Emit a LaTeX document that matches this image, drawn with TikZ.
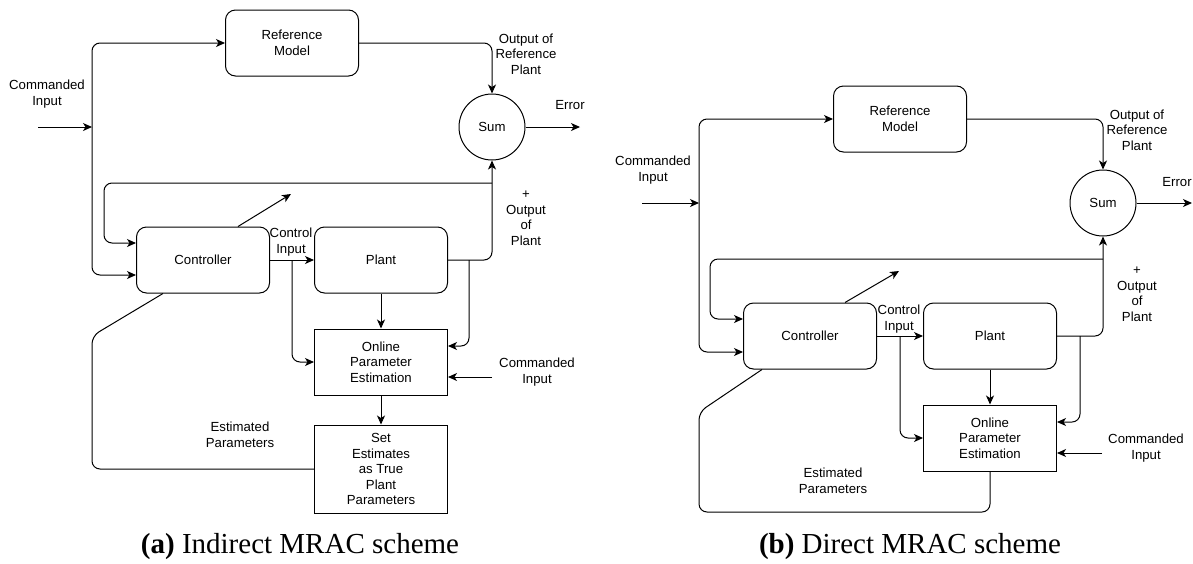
\documentclass[tikz,border=0pt]{standalone}
\usepackage{fontspec}
\setmainfont{Liberation Serif}
\newfontfamily\diafont{Liberation Sans}
\usetikzlibrary{arrows.meta}

\tikzset{
  blk/.style={draw, rounded corners=10pt, minimum width=133pt, minimum height=66pt, align=center},
  sqblk/.style={draw, minimum width=133pt, minimum height=66pt, align=center},
  sumblk/.style={draw, circle, minimum size=66pt, inner sep=0pt},
  lbl/.style={align=center},
  wire/.style={-{Stealth[length=9pt,width=8pt,inset=2.5pt]}, rounded corners=8pt},
  capt/.style={font=\rmfamily\fontsize{29}{34}\selectfont},
}

\begin{document}
\begin{tikzpicture}[x=1pt, y=-1pt, line width=1pt, font=\diafont\fontsize{13.2}{15.5}\selectfont]
\useasboundingbox (0,0) rectangle (1193,563);

% (a) indirect scheme
\begin{scope}[name prefix=a-]
\node[blk] (ref) at (292,43) {Reference\\Model};
\node[sumblk] (sum) at (492,127) {Sum};
\node[blk] (ctrl) at (203,260) {Controller};
\node[blk] (plant) at (381,260) {Plant};
\node[sqblk] (ope) at (381,362) {Online\\Parameter\\Estimation};
\node[sqblk, minimum height=88pt] (setest) at (381,469) {Set\\Estimates\\as True\\Plant\\Parameters};

\node[lbl] (cmdtxt) at (47,94) {Commanded\\Input};
\node[lbl] (reftxt) at (526,54) {Output of\\Reference\\Plant};
\node[lbl] (errtxt) at (570,105) {Error};
\node[lbl] (pouttxt) at (526,218) {+\\Output\\of\\Plant};
\node[lbl] (cintxt) at (291,242) {Control\\Input};
\node[lbl] (cmd2txt) at (537,372) {Commanded\\Input};
\node[lbl] (esttxt) at (240,435) {Estimated\\Parameters};

\coordinate (cmd) at (38,127);
\coordinate (split) at (92,127);
\coordinate (err) at (580,127);
\coordinate (fb) at (492,183);
\coordinate (fbl) at (104,183);
\coordinate (adj) at (291,194);
\coordinate (cbr) at (292,260);
\coordinate (pbr) at (469,260);
\coordinate (cmd2) at (492,377);
\coordinate (estl) at (92,336);

\draw[wire] (cmd) -- (split);
\draw[wire] (split) |- (ref.west);
\draw[wire] (split) |- ([yshift=-15pt]ctrl.west);
\draw[wire] (ref.east) -| (sum.north);
\draw[wire] (sum.east) -- (err);
\draw[wire] (plant.east) -| (sum.south);
\draw[wire] (fb) -- (fbl) |- ([yshift=17pt]ctrl.west);
\draw[wire] ([xshift=35pt]ctrl.north) -- (adj);
\draw[wire] (ctrl.east) -- (plant.west);
\draw[wire] (cbr) |- (ope.west);
\draw[wire] (pbr) |- ([yshift=16pt]ope.east);
\draw[wire] (plant.south) -- (ope.north);
\draw[wire] (cmd2) -- ([yshift=-15pt]ope.east);
\draw[wire] (ope.south) -- (setest.north);
\draw[rounded corners=8pt] (setest.west) -| (estl) -- ([xshift=-40pt]ctrl.south);
\end{scope}

% (b) direct scheme
\begin{scope}[shift={(607,76)}, name prefix=b-]
\node[blk] (ref) at (293,43) {Reference\\Model};
\node[sumblk] (sum) at (496,127) {Sum};
\node[blk] (ctrl) at (203,260) {Controller};
\node[blk] (plant) at (383,260) {Plant};
\node[sqblk] (ope) at (383,362) {Online\\Parameter\\Estimation};

\node[lbl] (cmdtxt) at (46,94) {Commanded\\Input};
\node[lbl] (reftxt) at (530,54) {Output of\\Reference\\Plant};
\node[lbl] (errtxt) at (570,106) {Error};
\node[lbl] (pouttxt) at (530,218) {+\\Output\\of\\Plant};
\node[lbl] (cintxt) at (292,243) {Control\\Input};
\node[lbl] (cmd2txt) at (539,372) {Commanded\\Input};
\node[lbl] (esttxt) at (226,405) {Estimated\\Parameters};

\coordinate (cmd) at (35,127);
\coordinate (split) at (92,127);
\coordinate (err) at (585,127);
\coordinate (fb) at (496,183);
\coordinate (fbl) at (103,183);
\coordinate (adj) at (292,195);
\coordinate (cbr) at (293,260);
\coordinate (pbr) at (473,260);
\coordinate (cmd2) at (495,377);
\coordinate (estb) at (383,436);
\coordinate (estl) at (92,336);

\draw[wire] (cmd) -- (split);
\draw[wire] (split) |- (ref.west);
\draw[wire] (split) |- ([yshift=-16pt]ctrl.west);
\draw[wire] (ref.east) -| (sum.north);
\draw[wire] (sum.east) -- (err);
\draw[wire] (plant.east) -| (sum.south);
\draw[wire] (fb) -- (fbl) |- ([yshift=17pt]ctrl.west);
\draw[wire] ([xshift=35pt]ctrl.north) -- (adj);
\draw[wire] (ctrl.east) -- (plant.west);
\draw[wire] (cbr) |- (ope.west);
\draw[wire] (pbr) |- ([yshift=16pt]ope.east);
\draw[wire] (plant.south) -- (ope.north);
\draw[wire] (cmd2) -- ([yshift=-15pt]ope.east);
\draw[rounded corners=8pt] (ope.south) -- (estb) -| (estl) -- ([xshift=-48pt]ctrl.south);
\end{scope}

\node[capt] (capa) at (300,547) {\textbf{(a)} Indirect MRAC scheme};
\node[capt] (capb) at (910,547) {\textbf{(b)} Direct MRAC scheme};
\end{tikzpicture}
\end{document}
